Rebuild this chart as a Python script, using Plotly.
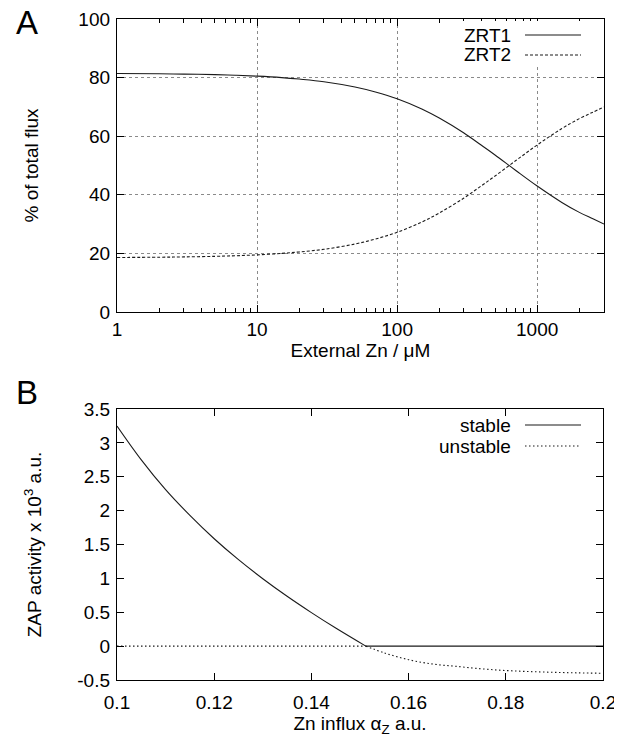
import plotly.graph_objects as go

# ---------------- Data ----------------
# Panel A: fraction of total Zn flux through ZRT1 / ZRT2 vs external Zn (µM)
zn_ext = [1, 2, 3, 5, 7, 10, 15, 20, 30, 50, 70, 100, 150, 200, 300, 400, 500,
          700, 1000, 1500, 2000, 2500, 3000]
zrt1 = [81.4, 81.3, 81.2, 81.0, 80.8, 80.5, 80.0, 79.5, 78.6, 76.8, 75.1, 72.8,
        69.3, 66.2, 61.1, 56.9, 53.6, 48.4, 43.0, 37.4, 34.0, 31.8, 30.0]
zrt2 = [18.6, 18.7, 18.8, 19.0, 19.2, 19.5, 20.0, 20.5, 21.4, 23.2, 24.9, 27.2,
        30.7, 33.8, 38.9, 43.1, 46.4, 51.6, 57.0, 62.6, 66.0, 68.2, 70.0]

# Panel B: ZAP activity (x10^3 a.u.) vs Zn influx
stable_x = [0.100, 0.105, 0.110, 0.115, 0.120, 0.125, 0.130, 0.135,
            0.140, 0.145, 0.1512]
stable_y = [3.25, 2.75, 2.31, 1.93, 1.585, 1.276, 0.995, 0.736,
            0.495, 0.267, 0.0]
stable_zero_x = [0.1512, 0.200]
stable_zero_y = [0.0, 0.0]
unstable_zero_x = [0.100, 0.1512]
unstable_zero_y = [0.0, 0.0]
unstable_x = [0.1512, 0.155, 0.160, 0.165, 0.170, 0.175,
              0.180, 0.185, 0.190, 0.195, 0.200]
unstable_y = [0.0, -0.10, -0.20, -0.265, -0.30, -0.335,
              -0.36, -0.376, -0.387, -0.395, -0.40]

a_xticks = [1, 10, 100, 1000]
a_xticklabels = ["1", "10", "100", "1000"]
a_xminor = [m * d for d in (1, 10, 100, 1000) for m in range(2, 10) if m * d <= 3000]
a_yticks = [0, 20, 40, 60, 80, 100]
b_xticks = [0.1, 0.12, 0.14, 0.16, 0.18, 0.2]
b_xticklabels = ["0.1", "0.12", "0.14", "0.16", "0.18", "0.2"]
b_yticks = [-0.5, 0, 0.5, 1, 1.5, 2, 2.5, 3, 3.5]
b_yticklabels = ["-0.5", "0", "0.5", "1", "1.5", "2", "2.5", "3", "3.5"]

# ---------------- Figure ----------------
# page body has an 8px margin, so the figure is 8px smaller than the window
OFF = 8
W, H = 622 - OFF, 750 - OFF
FONT = "Liberation Sans, Arial, sans-serif"
FS = 19
def px(x):
    return (x - OFF) / W
def py(y):
    return 1 - (y - OFF) / H

fig = go.Figure()
line_col = "#1a1a1a"

fig.add_trace(go.Scatter(x=zn_ext, y=zrt1, name="ZRT1", mode="lines",
                         line=dict(color=line_col, width=1.1, shape="spline"),
                         xaxis="x", yaxis="y"))
fig.add_trace(go.Scatter(x=zn_ext, y=zrt2, name="ZRT2", mode="lines",
                         line=dict(color=line_col, width=1.1, dash="3px,2px", shape="spline"),
                         xaxis="x", yaxis="y"))
fig.add_trace(go.Scatter(x=unstable_zero_x, y=unstable_zero_y, name="unstable", mode="lines",
                         line=dict(color=line_col, width=1.1, dash="1.5px,2.5px"),
                         xaxis="x2", yaxis="y2"))
fig.add_trace(go.Scatter(x=unstable_x, y=unstable_y, name="unstable", mode="lines",
                         line=dict(color=line_col, width=1.1, dash="1.5px,2.5px", shape="spline"),
                         xaxis="x2", yaxis="y2"))
fig.add_trace(go.Scatter(x=stable_x, y=stable_y, name="stable", mode="lines",
                         line=dict(color=line_col, width=1.1, shape="spline", smoothing=1.0),
                         xaxis="x2", yaxis="y2"))
fig.add_trace(go.Scatter(x=stable_zero_x, y=stable_zero_y, name="stable", mode="lines",
                         line=dict(color=line_col, width=1.1),
                         xaxis="x2", yaxis="y2"))

axis_common = dict(showline=True, linecolor="black", linewidth=1.3, mirror="ticks",
                   ticks="inside", ticklen=7, tickwidth=1, tickcolor="black",
                   tickfont=dict(family=FONT, size=FS, color="black"),
                   zeroline=False, automargin=False)

fig.update_layout(
    width=W, height=H,
    margin=dict(l=0, r=0, t=0, b=0, autoexpand=False),
    paper_bgcolor="white", plot_bgcolor="white",
    showlegend=False,
    font=dict(family=FONT, size=FS, color="black"),
    xaxis=dict(axis_common, type="log", domain=[px(117), px(604)],
               range=[0, 3.4771], anchor="y",
               tickvals=a_xticks, ticktext=a_xticklabels,
               showgrid=True, gridcolor="#8a8a8a", griddash="dot", gridwidth=1,
               minor=dict(ticks="inside", ticklen=4, tickcolor="black", showgrid=False,
                          tickvals=a_xminor),
               title=dict(text="External Zn / μM", font=dict(family=FONT, size=FS), standoff=2),
               ticklabelstandoff=0),
    yaxis=dict(axis_common, domain=[py(312), py(19)], range=[0, 100], anchor="x",
               tickvals=a_yticks,
               showgrid=True, gridcolor="#8a8a8a", griddash="dot", gridwidth=1,
               title=dict(text="% of total flux", font=dict(family=FONT, size=FS), standoff=34),
               ticklabelstandoff=2),
    xaxis2=dict(axis_common, domain=[px(117), px(603)], range=[0.1, 0.2], anchor="y2",
                tickvals=b_xticks, ticktext=b_xticklabels, showgrid=False,
                title=dict(text="Zn influx α<sub>Z</sub> a.u.", font=dict(family=FONT, size=FS), standoff=2),
                ticklabelstandoff=5),
    yaxis2=dict(axis_common, domain=[py(680), py(409)], range=[-0.5, 3.5], anchor="x2",
                tickvals=b_yticks, ticktext=b_yticklabels, showgrid=False,
                title=dict(text="ZAP activity x 10<sup>3</sup> a.u.", font=dict(family=FONT, size=FS), standoff=30),
                ticklabelstandoff=2),
)

# white legend box in panel A (hides grid under legend)
fig.add_shape(type="rect", xref="paper", yref="paper",
              x0=px(440), x1=px(602), y0=py(66), y1=py(21),
              fillcolor="white", line=dict(width=0), layer="above")

# manual legends (text right-aligned, line sample to the right)
legend_items = [("ZRT1", 35, "solid"), ("ZRT2", 55, "3px,2px"),
                ("stable", 425, "solid"), ("unstable", 446, "1.5px,2.5px")]
for label, yc, dash in legend_items:
    fig.add_annotation(text=label, xref="paper", yref="paper",
                       x=px(513), y=py(yc), xanchor="right", yanchor="middle",
                       showarrow=False, font=dict(family=FONT, size=FS, color="black"))
    fig.add_shape(type="line", xref="paper", yref="paper",
                  x0=px(525), x1=px(581), y0=py(yc), y1=py(yc),
                  line=dict(color=line_col, width=1.1, dash=dash), layer="above")

# panel letters
fig.add_annotation(text="A", xref="paper", yref="paper", x=px(27), y=py(23),
                   xanchor="center", yanchor="middle", showarrow=False,
                   font=dict(family=FONT, size=33, color="black"))
fig.add_annotation(text="B", xref="paper", yref="paper", x=px(27), y=py(392),
                   xanchor="center", yanchor="middle", showarrow=False,
                   font=dict(family=FONT, size=33, color="black"))

fig.write_html("out.html")
